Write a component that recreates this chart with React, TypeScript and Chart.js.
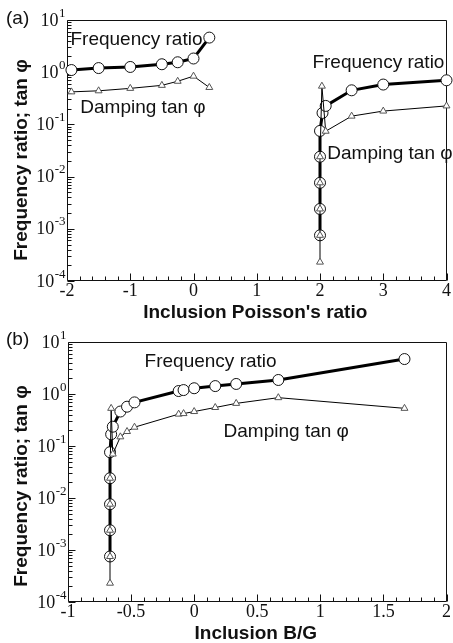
import React, { useEffect, useRef } from "react";
import { Chart, registerables } from "chart.js";

Chart.register(...registerables);

// ---- Panel (a): Inclusion Poisson's ratio ----
const poissonLeftX = [-1.93, -1.5, -1, -0.5, -0.25, 0, 0.25];
const poissonLeftFreq = [1.1, 1.2, 1.26, 1.42, 1.55, 1.83, 4.6];
const poissonLeftDamp = [0.42, 0.44, 0.49, 0.56, 0.67, 0.84, 0.51];
const poissonRightFreqX = [2, 2, 2, 2, 2, 2.04, 2.09, 2.5, 3, 4];
const poissonRightFreq = [0.00075, 0.0024, 0.0076, 0.024, 0.075, 0.166, 0.226, 0.45, 0.58, 0.7];
const poissonRightDampX = [2, 2, 2, 2, 2, 2.03, 2.09, 2.5, 3, 4];
const poissonRightDamp = [0.00023, 0.00075, 0.0024, 0.0076, 0.024, 0.54, 0.074, 0.144, 0.18, 0.226];
const poissonTicks = [-2, -1, 0, 1, 2, 3, 4];
const poissonTickLabels = ["-2", "-1", "0", "1", "2", "3", "4"];

// ---- Panel (b): Inclusion B/G ----
const bgFreqX = [-0.667, -0.667, -0.667, -0.667, -0.667, -0.658, -0.645, -0.585, -0.532, -0.473, -0.123, -0.084, 0, 0.167, 0.333, 0.667, 1.667];
const bgFreq = [0.00075, 0.0024, 0.0076, 0.024, 0.076, 0.168, 0.235, 0.46, 0.57, 0.69, 1.14, 1.19, 1.29, 1.42, 1.56, 1.86, 4.7];
const bgDampX = [-0.667, -0.667, -0.667, -0.667, -0.667, -0.658, -0.645, -0.585, -0.532, -0.473, -0.123, -0.084, 0, 0.167, 0.333, 0.667, 1.667];
const bgDamp = [0.00023, 0.00075, 0.0024, 0.0076, 0.024, 0.53, 0.07, 0.15, 0.19, 0.23, 0.41, 0.42, 0.46, 0.55, 0.66, 0.85, 0.53];
const bgTicks = [-1, -0.5, 0, 0.5, 1, 1.5, 2];
const bgTickLabels = ["-1", "-0.5", "0", "0.5", "1", "1.5", "2"];

// ---- shared y axis (log) ----
const decadeExponents = [-4, -3, -2, -1, 0, 1];

const SERIF = '"Liberation Serif", "Times New Roman", serif';
const SANS = '"Liberation Sans", Arial, sans-serif';

const pts = (xs: number[], ys: number[]) => xs.map((x, i) => ({ x, y: ys[i] }));

const freqStyle = {
  borderColor: "#000",
  borderWidth: 3,
  pointStyle: "circle",
  pointRadius: 5.5,
  pointBackgroundColor: "#fff",
  pointBorderColor: "#111",
  pointBorderWidth: 1,
  tension: 0,
  clip: false,
  order: 2,
};
const dampStyle = {
  borderColor: "#000",
  borderWidth: 1,
  pointStyle: "triangle",
  pointRadius: 4,
  pointBackgroundColor: "#fff",
  pointBorderColor: "#555",
  pointBorderWidth: 1,
  tension: 0,
  clip: false,
  order: 1,
};

const decorPlugin = {
  id: "decor",
  beforeDatasetsDraw(chart: any) {
    const o = chart.options.plugins.decor;
    const { ctx, chartArea: a } = chart;
    const xs = chart.scales.x;
    const ys = chart.scales.y;
    const L = Math.round(a.left) + 0.5;
    const R = Math.round(a.right) - 0.5;
    const T = Math.round(a.top) + 0.5;
    const B = Math.round(a.bottom) - 0.5;
    ctx.save();
    ctx.strokeStyle = "#111";
    ctx.lineWidth = 1;
    ctx.beginPath();
    ctx.rect(L, T, R - L, B - T);
    ctx.stroke();
    // y ticks
    ctx.beginPath();
    decadeExponents.forEach((e, i) => {
      const py = Math.round(ys.getPixelForValue(Math.pow(10, e))) + 0.5;
      ctx.moveTo(L, py);
      ctx.lineTo(L + 7, py);
      if (i < decadeExponents.length - 1) {
        for (let m = 2; m <= 9; m++) {
          const q = Math.round(ys.getPixelForValue(m * Math.pow(10, e))) + 0.5;
          ctx.moveTo(L, q);
          ctx.lineTo(L + 4, q);
        }
      }
    });
    // x ticks
    o.xTicks.forEach((v: number) => {
      const px = Math.round(xs.getPixelForValue(v)) + 0.5;
      ctx.moveTo(px, B);
      ctx.lineTo(px, B - 7);
    });
    const n = Math.round((xs.max - xs.min) / o.xMinor);
    for (let k = 0; k <= n; k++) {
      const v = xs.min + k * o.xMinor;
      if (o.xTicks.some((t: number) => Math.abs(t - v) < 1e-6)) continue;
      const px = Math.round(xs.getPixelForValue(v)) + 0.5;
      ctx.moveTo(px, B);
      ctx.lineTo(px, B - 4);
    }
    ctx.stroke();
    // annotations
    ctx.fillStyle = "#111";
    ctx.font = `19px ${SANS}`;
    ctx.textAlign = "left";
    ctx.textBaseline = "alphabetic";
    o.notes.forEach((nt: any) => {
      ctx.fillText(nt.text, xs.getPixelForValue(nt.x), ys.getPixelForValue(nt.y));
    });
    ctx.restore();
  },
  afterDraw(chart: any) {
    const o = chart.options.plugins.decor;
    const { ctx, chartArea: a } = chart;
    const xs = chart.scales.x;
    const ys = chart.scales.y;
    ctx.save();
    ctx.fillStyle = "#111";
    ctx.textBaseline = "alphabetic";
    // y tick labels 10^e
    decadeExponents.forEach((e) => {
      const py = ys.getPixelForValue(Math.pow(10, e));
      const exp = String(e);
      ctx.font = `13px ${SERIF}`;
      ctx.textAlign = "right";
      const ew = ctx.measureText(exp).width;
      ctx.fillText(exp, a.left - 1.5, py - 3.5);
      ctx.font = `18px ${SERIF}`;
      ctx.fillText("10", a.left - 2 - ew, py + 5.5);
    });
    // x tick labels
    ctx.font = `18px ${SERIF}`;
    ctx.textAlign = "center";
    o.xTicks.forEach((v: number, i: number) => {
      ctx.fillText(o.xLabels[i], xs.getPixelForValue(v), a.bottom + 14.5);
    });
    // x title
    ctx.font = `bold 19px ${SANS}`;
    ctx.fillText(o.xTitle, (a.left + a.right) / 2 - 1.5, a.bottom + 37);
    // y title
    ctx.save();
    ctx.translate(27, (a.top + a.bottom) / 2 + o.yTitleShift);
    ctx.rotate(-Math.PI / 2);
    ctx.textAlign = "center";
    ctx.fillText("Frequency ratio; tan \u03c6", 0, 0);
    ctx.restore();
    // panel tag
    ctx.font = `19px ${SANS}`;
    ctx.textAlign = "left";
    ctx.fillText(o.tag, 6, o.tagY);
    ctx.restore();
  },
};

function makeConfig(kind: "a" | "b") {
  const isA = kind === "a";
  const datasets = isA
    ? [
        { ...dampStyle, data: pts(poissonLeftX, poissonLeftDamp) },
        { ...dampStyle, data: pts(poissonRightDampX, poissonRightDamp) },
        { ...freqStyle, data: pts(poissonLeftX, poissonLeftFreq) },
        { ...freqStyle, data: pts(poissonRightFreqX, poissonRightFreq) },
      ]
    : [
        { ...dampStyle, data: pts(bgDampX, bgDamp) },
        { ...freqStyle, data: pts(bgFreqX, bgFreq) },
      ];
  const notes = isA
    ? [
        { text: "Frequency ratio", x: -1.945, y: 3.3 },
        { text: "Damping tan \u03c6", x: -1.79, y: 0.165 },
        { text: "Frequency ratio", x: 1.88, y: 1.19 },
        { text: "Damping tan \u03c6", x: 2.115, y: 0.0214 },
      ]
    : [
        { text: "Frequency ratio", x: -0.393, y: 3.26 },
        { text: "Damping tan \u03c6", x: 0.233, y: 0.151 },
      ];
  return {
    type: "line",
    data: { datasets },
    options: {
      animation: false,
      responsive: false,
      events: [],
      layout: {
        padding: isA
          ? { left: 67, right: 2, top: 20, bottom: 41 }
          : { left: 68, right: 2, top: 20, bottom: 41 },
      },
      scales: {
        x: { type: "linear", min: isA ? -2 : -1, max: isA ? 4 : 2, display: false },
        y: { type: "logarithmic", min: 1e-4, max: 10, display: false },
      },
      plugins: {
        legend: { display: false },
        tooltip: { enabled: false },
        decor: {
          xTicks: isA ? poissonTicks : bgTicks,
          xLabels: isA ? poissonTickLabels : bgTickLabels,
          xMinor: isA ? 0.2 : 0.1,
          xTitle: isA ? "Inclusion Poisson's ratio" : "Inclusion B/G",
          yTitleShift: isA ? 9.5 : 14,
          tag: isA ? "(a)" : "(b)",
          tagY: isA ? 24 : 22.5,
          notes,
        },
      },
    },
    plugins: [decorPlugin],
  };
}

function Panel({ kind, top, height }: { kind: "a" | "b"; top: number; height: number }) {
  const ref = useRef<HTMLCanvasElement | null>(null);
  useEffect(() => {
    const chart = new Chart(ref.current as HTMLCanvasElement, makeConfig(kind) as any);
    return () => chart.destroy();
  }, [kind]);
  return (
    <canvas
      ref={ref}
      width={453}
      height={height}
      style={{ position: "absolute", left: 0, top, width: 453, height, display: "block" }}
    />
  );
}

export default function App() {
  return (
    <div style={{ position: "absolute", left: 0, top: 0, width: 453, height: 643, background: "#fff", overflow: "hidden" }}>
      <Panel kind="a" top={0} height={322} />
      <Panel kind="b" top={322} height={321} />
    </div>
  );
}
